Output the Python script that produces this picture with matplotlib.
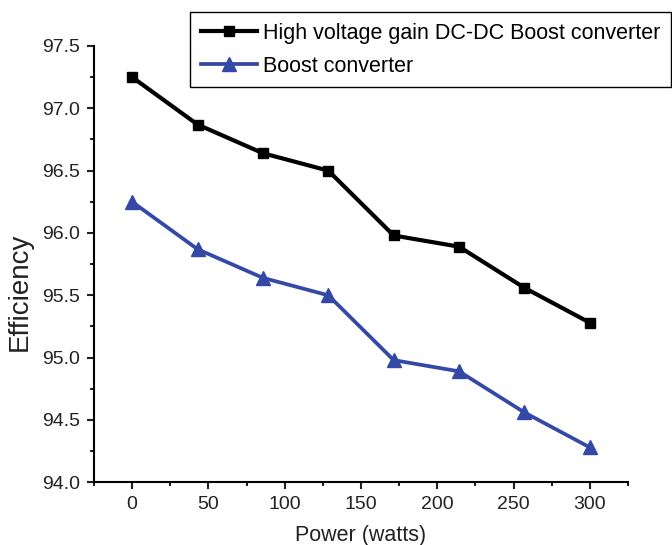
import matplotlib
matplotlib.use("Agg")
import matplotlib.pyplot as plt
from matplotlib.ticker import MultipleLocator

power = [0, 42.86, 85.71, 128.57, 171.43, 214.29, 257.14, 300]
eff_high_gain = [97.25, 96.87, 96.64, 96.50, 95.98, 95.89, 95.56, 95.28]
eff_boost = [96.25, 95.87, 95.64, 95.50, 94.98, 94.89, 94.56, 94.28]
labels = ["High voltage gain DC-DC Boost converter", "Boost converter"]

plt.rcParams["font.family"] = ["Liberation Sans", "DejaVu Sans"]

fig = plt.figure(figsize=(6.72, 5.45), dpi=100)
ax = fig.add_axes([94 / 672, 1 - 482.3 / 545, (628 - 94) / 672, (482.3 - 46) / 545])

ax.plot(power, eff_high_gain, color="black", lw=3, marker="s", ms=7.5,
        label=labels[0])
ax.plot(power, eff_boost, color="#3449a6", lw=2.7, marker="^", ms=9.5,
        label=labels[1])

ax.set_xlim(-25, 325)
ax.set_ylim(94.0, 97.5)
ax.xaxis.set_major_locator(MultipleLocator(50))
ax.xaxis.set_minor_locator(MultipleLocator(25))
ax.yaxis.set_major_locator(MultipleLocator(0.5))
ax.yaxis.set_minor_locator(MultipleLocator(0.25))
ax.yaxis.set_major_formatter(plt.FormatStrFormatter("%.1f"))

for s in ["top", "right"]:
    ax.spines[s].set_visible(False)
for s in ["left", "bottom"]:
    ax.spines[s].set_linewidth(1.5)
ax.tick_params(which="major", length=5, width=1.5, labelsize=14, colors="#222222", pad=5)
ax.tick_params(which="minor", length=3, width=1.5, colors="#222222")

ax.set_xlabel("Power (watts)", fontsize=15.5, color="#222222")
ax.xaxis.set_label_coords(0.5, -0.097)
ax.set_ylabel("Efficiency", fontsize=20, color="#222222")
ax.yaxis.set_label_coords(-0.114, 0.436)

fig.legend(loc="upper left", bbox_to_anchor=(190 / 672, 1 - 12 / 545),
           bbox_transform=fig.transFigure, borderaxespad=0, fontsize=15.5,
           frameon=True, fancybox=False, edgecolor="black", framealpha=1,
           handlelength=2.6, handletextpad=0.3, labelspacing=0.55, borderpad=0.5)

fig.savefig("out.png", dpi=100)
